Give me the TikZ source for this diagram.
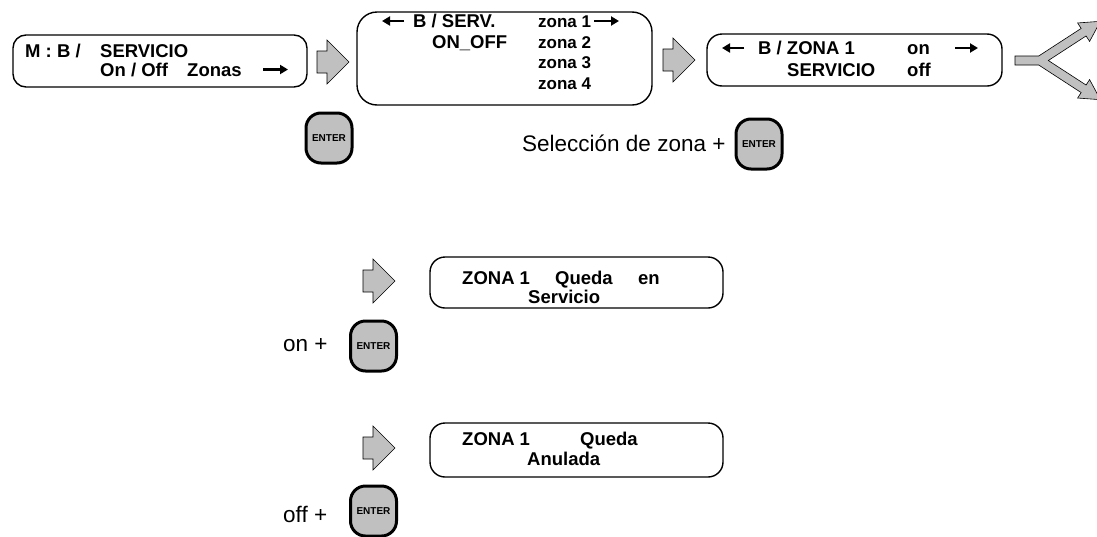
\documentclass[tikz,border=0pt]{standalone}
\usepackage{fontspec}
\setmainfont{Liberation Sans}
\usetikzlibrary{arrows.meta}
\definecolor{keygray}{RGB}{192,192,192}
\tikzset{
  panel/.style={draw, line width=1.4pt, rounded corners=#1, inner sep=0pt},
  bt/.style={font=\fontsize{18.5}{19}\selectfont\bfseries, inner sep=0pt, anchor=base west},
  zt/.style={font=\fontsize{17}{18}\selectfont\bfseries, inner sep=0pt, anchor=base west},
  rt/.style={font=\fontsize{22.5}{23}\selectfont, inner sep=0pt, anchor=base west},
  keybox/.style={draw, line width=3pt, fill=keygray, rounded corners=15pt, minimum width=46pt, minimum height=50pt, inner sep=0pt, font=\fontsize{10}{11}\selectfont\bfseries},
  blockfill/.style={draw, fill=keygray, line width=0.6pt, line join=miter},
  tarrow/.style={line width=2.2pt, -{Triangle[length=8pt,width=9pt]}},
  barrow/.pic={\draw[blockfill] (0,-11) -- (10,-11) -- (10,-22) -- (32,0) -- (10,22) -- (10,11) -- (0,11) -- cycle;}
}
\begin{document}
\begin{tikzpicture}[x=1pt,y=-1pt]
\useasboundingbox (0,0) rectangle (1097,536);
\clip (0,0) rectangle (1097,536);

% panels
\node[panel=13pt, minimum width=294pt, minimum height=52pt] (b1) at (160,61) {};
\node[panel=20pt, minimum width=295pt, minimum height=93pt] (b2) at (504.5,58.5) {};
\node[panel=15pt, minimum width=295pt, minimum height=52pt] (b3) at (854.5,60) {};
\node[panel=15pt, minimum width=293pt, minimum height=51pt] (b4) at (576.5,282.5) {};
\node[panel=15pt, minimum width=293pt, minimum height=54pt] (b5) at (576.5,450) {};

% panel 1 text
\node[bt] (t1a) at (25,57) {M : B /};
\node[bt] (t1b) at (100,57) {SERVICIO};
\node[bt] (t1c) at (100,76) {On / Off};
\node[bt] (t1d) at (187,76) {Zonas};
\coordinate (r1s) at (263,69.5); \coordinate (r1e) at (288,69.5);
\draw[tarrow] (r1s) -- (r1e);

% panel 2 text
\coordinate (l2s) at (404,21); \coordinate (l2e) at (382,21);
\draw[tarrow] (l2s) -- (l2e);
\node[bt] (t2a) at (413,27.5) {B / SERV.};
\node[bt] (t2b) at (432,48) {ON\_OFF};
\node[zt] (z1) at (538,27.5) {zona 1};
\node[zt] (z2) at (538,48) {zona 2};
\node[zt] (z3) at (538,68.5) {zona 3};
\node[zt] (z4) at (538,89) {zona 4};
\coordinate (r2s) at (594,21); \coordinate (r2e) at (619,21);
\draw[tarrow] (r2s) -- (r2e);

% panel 3 text
\coordinate (l3s) at (744,48); \coordinate (l3e) at (722,48);
\draw[tarrow] (l3s) -- (l3e);
\node[bt] (t3a) at (758,54.5) {B / ZONA 1};
\node[bt] (t3b) at (907,54.5) {on};
\node[bt] (t3c) at (787,76.5) {SERVICIO};
\node[bt] (t3d) at (907,76.5) {off};
\coordinate (r3s) at (955,48); \coordinate (r3e) at (978,48);
\draw[tarrow] (r3s) -- (r3e);

% panel 4 text
\node[bt] (t4a) at (462,284) {ZONA 1};
\node[bt] (t4b) at (555,284) {Queda};
\node[bt] (t4c) at (638,284) {en};
\node[bt] (t4d) at (528,303) {Servicio};

% panel 5 text
\node[bt] (t5a) at (462,445) {ZONA 1};
\node[bt] (t5b) at (580,445) {Queda};
\node[bt] (t5c) at (527,465) {Anulada};

% block arrows
\pic (a1) at (317,62) {barrow};
\pic (a2) at (663,60) {barrow};
\pic (a3) at (363,281) {barrow};
\pic (a4) at (363,448) {barrow};

% fork arrow
\draw[blockfill] (1015,56) -- (1038.7,56) -- (1081.15,28.43) -- (1077.6,22.97) -- (1100.4,21.3)
  -- (1089.6,41.4) -- (1086.05,35.97) -- (1048.3,60.5) -- (1086.05,85.03) -- (1089.6,79.6)
  -- (1100.4,99.7) -- (1077.6,98.03) -- (1081.15,92.57) -- (1038.7,65) -- (1015,65) -- cycle;

% keys and labels
\node[keybox] (k1) at (329,138) {ENTER};
\node[rt] (sel) at (522,151) {Selección de zona +};
\node[keybox] (k2) at (759,144) {ENTER};
\node[rt] (on) at (283,351) {on +};
\node[keybox] (k3) at (373.5,346) {ENTER};
\node[rt] (off) at (283,522) {off +};
\node[keybox] (k4) at (373.5,511) {ENTER};
\end{tikzpicture}
\end{document}
